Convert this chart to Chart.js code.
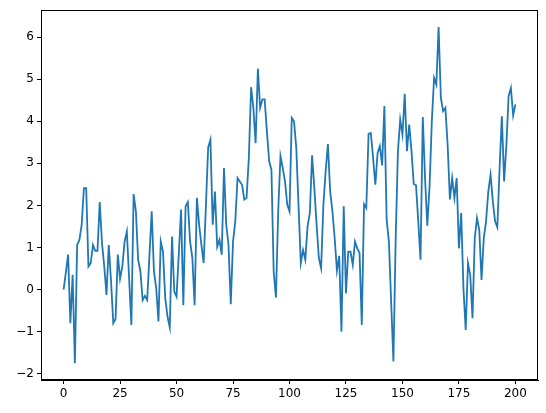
<!DOCTYPE html>
<html>
<head>
<meta charset="utf-8">
<script src="https://cdn.jsdelivr.net/npm/chart.js@4/dist/chart.umd.min.js"></script>
<style>
  html, body { margin: 0; padding: 0; background: #fff; }
  #wrap { width: 546px; height: 413px; position: relative; }
</style>
</head>
<body>
<div id="wrap"><canvas id="c" width="546" height="413"></canvas></div>
<script>
// Series values, index 0..200
const values = [
  0, 0.4, 0.83, -0.8, 0.35, -1.75, 1.06, 1.18, 1.54, 2.41,
  2.41, 0.55, 0.63, 1.06, 0.92, 0.92, 2.08, 1.1, 0.55, -0.13,
  1.06, 0.2, -0.8, -0.7, 0.83, 0.26, 0.55, 1.14, 1.38, 0.27,
  -0.84, 2.27, 1.86, 0.71, 0.43, -0.25, -0.15, -0.25, 0.8, 1.86,
  0.43, 0.03, -0.76, 1.14, 0.9, -0.21, -0.64, -0.9, 1.26, -0.05,
  -0.17, 0.85, 1.9, -0.37, 1.98, 2.08, 1.14, 0.75, -0.37, 2.18,
  1.54, 1.06, 0.63, 2.0, 3.38, 3.56, 1.54, 2.33, 1.02, 1.18,
  0.83, 2.89, 1.54, 1.06, -0.35, 1.14, 1.62, 2.65, 2.57, 2.49,
  2.14, 2.18, 3.13, 4.81, 4.32, 3.48, 5.25, 4.32, 4.52, 4.52,
  3.76, 3.05, 2.85, 0.43, -0.19, 1.86, 3.17, 2.89, 2.57, 2.02,
  1.86, 4.08, 4.0, 3.37, 2.0, 0.63, 0.94, 0.71, 1.5, 1.82,
  3.19, 2.41, 1.54, 0.75, 0.51, 2.02, 2.81, 3.46, 2.33, 1.86,
  1.22, 0.45, 0.8, -1.0, 1.98, -0.09, 0.9, 0.9, 0.59, 1.14,
  0.98, 0.87, -0.84, 2.03, 1.94, 3.7, 3.72, 3.13, 2.49, 3.25,
  3.41, 2.95, 4.36, 1.66, 1.14, -0.3, -1.71, 1.2, 3.29, 4.04,
  3.68, 4.65, 3.29, 3.92, 3.29, 2.51, 2.48, 1.62, 0.71, 4.1,
  2.65, 1.52, 2.45, 4.0, 5.03, 4.87, 6.24, 4.56, 4.24, 4.32,
  3.44, 2.14, 2.65, 2.18, 2.65, 0.98, 1.82, 0.03, -0.96, 0.63,
  0.35, -0.68, 1.22, 1.7, 1.42, 0.23, 1.22, 1.62, 2.33, 2.73,
  2.1, 1.62, 1.48, 2.89, 4.12, 2.57, 3.44, 4.6, 4.79, 4.14,
  4.4
];
const xTicks = [0, 25, 50, 75, 100, 125, 150, 175, 200];
const yTicks = [-2, -1, 0, 1, 2, 3, 4, 5, 6];

const points = values.map((v, i) => ({ x: i, y: v }));

// matplotlib-style 5% margins
const xMin = 0, xMax = values.length - 1;
const xPad = (xMax - xMin) * 0.05;
const vMin = Math.min(...values), vMax = Math.max(...values);
const yPad = (vMax - vMin) * 0.05;

const fmt = v => (v < 0 ? '\u2212' + Math.abs(v) : String(v));

const frame = {
  id: 'frame',
  afterDraw(chart) {
    const { ctx, chartArea: a } = chart;
    ctx.save();
    ctx.strokeStyle = '#000';
    ctx.lineWidth = 1;
    ctx.strokeRect(Math.round(a.left) + 0.5, Math.round(a.top) + 0.5,
                   Math.round(a.right - a.left) - 1, Math.round(a.bottom - a.top) - 1);
    ctx.restore();
  }
};

const font = { family: 'DejaVu Sans', size: 12 };

new Chart(document.getElementById('c'), {
  type: 'line',
  data: {
    datasets: [{
      data: points,
      borderColor: '#1f77b4',
      borderWidth: 1.8,
      pointRadius: 0,
      tension: 0,
      fill: false
    }]
  },
  options: {
    responsive: false,
    animation: false,
    devicePixelRatio: 1,
    layout: { padding: { top: 10, right: 8, left: 0, bottom: 0 } },
    plugins: { legend: { display: false }, tooltip: { enabled: false } },
    scales: {
      x: {
        type: 'linear',
        min: xMin - xPad,
        max: xMax + xPad,
        afterBuildTicks: s => { s.ticks = xTicks.map(v => ({ value: v })); },
        afterFit: s => { s.height = 33; },
        grid: { display: true, drawOnChartArea: false, drawTicks: true, tickLength: 4, color: '#000', lineWidth: 1 },
        border: { display: true, color: '#000', width: 1 },
        ticks: { color: '#000', font, padding: 3, maxRotation: 0, autoSkip: false, callback: v => fmt(v) }
      },
      y: {
        type: 'linear',
        min: vMin - yPad,
        max: vMax + yPad,
        afterBuildTicks: s => { s.ticks = yTicks.map(v => ({ value: v })); },
        afterFit: s => { s.width = 41; },
        grid: { display: true, drawOnChartArea: false, drawTicks: true, tickLength: 4, color: '#000', lineWidth: 1 },
        border: { display: true, color: '#000', width: 1 },
        ticks: { color: '#000', font, padding: 3, autoSkip: false, callback: v => fmt(v) }
      }
    }
  },
  plugins: [frame]
});
</script>
</body>
</html>
